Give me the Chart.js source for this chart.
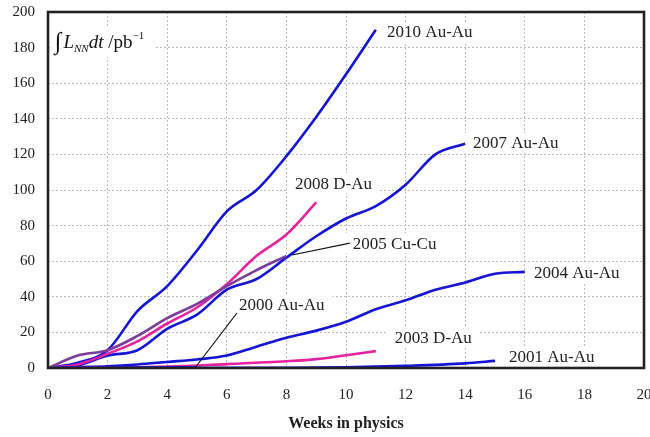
<!DOCTYPE html>
<html><head><meta charset="utf-8">
<script src="https://cdn.jsdelivr.net/npm/chart.js@4/dist/chart.umd.min.js"></script>
<style>html,body{margin:0;padding:0;background:#fff}#wrap{width:650px;height:437px;position:relative}</style>
</head><body><div id="wrap"><canvas id="c"></canvas></div>
<script>
// ---- data (weeks in physics vs integrated luminosity, pb^-1) ----
const weeks2010 = [0, 1, 2, 3, 4, 5, 6, 7, 8, 9, 10, 11];
const lum2010   = [0, 3, 10, 32, 46, 66, 88, 100, 119, 141, 165, 190];
const weeks2007 = [0, 1, 2, 3, 4, 5, 6, 7, 8, 9, 10, 11, 12, 13, 14];
const lum2007   = [0, 1.5, 7, 10, 22, 30, 44, 50, 62, 74, 84, 91, 103, 120, 126];
const weeks2008 = [0, 1, 2, 3, 4, 5, 6, 7, 8, 9];
const lum2008   = [0, 2, 8, 15, 25, 34, 47, 63, 75, 93];
const weeks2005 = [0, 1, 2, 3, 4, 5, 6, 7, 8];
const lum2005   = [0, 7, 10, 18, 28, 36, 46, 55, 63];
const weeks2004 = [0, 1, 2, 3, 4, 5, 6, 7, 8, 9, 10, 11, 12, 13, 14, 15, 16];
const lum2004   = [0, 0.5, 1, 2, 3.4, 4.8, 7, 12, 17, 21, 26, 33, 38, 44, 48, 53, 54];
const weeks2003 = [0, 4, 6, 8, 9, 10, 11];
const lum2003   = [0, 0.8, 2.2, 3.8, 5, 7.2, 9.5];
const weeks2001 = [0, 8, 10, 12, 14, 15];
const lum2001   = [0, 0.1, 0.4, 1.2, 2.6, 4];
const weeks2000 = [0, 5];
const lum2000   = [0, 0.4];
const xTickValues = [0, 2, 4, 6, 8, 10, 12, 14, 16, 18, 20];
const yTickValues = [0, 20, 40, 60, 80, 100, 120, 140, 160, 180, 200];
const runNames = ['2010 Au-Au', '2007 Au-Au', '2008 D-Au', '2005 Cu-Cu', '2004 Au-Au', '2000 Au-Au', '2003 D-Au', '2001 Au-Au'];

const BLUE = '#1414d4', PINK = '#e6229f', PURPLE = '#7c3c9c';
const pts = (xs, ys) => xs.map((x, i) => ({x, y: ys[i]}));
function ds(label, xs, ys, color) {
  return {label, data: pts(xs, ys), borderColor: color, backgroundColor: color,
    borderWidth: 2.6, pointRadius: 0, fill: false, cubicInterpolationMode: 'monotone'};
}
const datasets = [
  ds(runNames[3], weeks2005, lum2005, PURPLE),
  ds(runNames[5], weeks2000, lum2000, BLUE),
  ds(runNames[7], weeks2001, lum2001, BLUE),
  ds(runNames[6], weeks2003, lum2003, PINK),
  ds(runNames[4], weeks2004, lum2004, BLUE),
  ds(runNames[2], weeks2008, lum2008, PINK),
  ds(runNames[1], weeks2007, lum2007, BLUE),
  ds(runNames[0], weeks2010, lum2010, BLUE)
];

// label anchors in data coordinates (left edge, vertical centre)
const labelAnchors = [
  [runNames[0], 11.38, 188.8], [runNames[1], 14.26, 126.4], [runNames[2], 8.29, 103.9],
  [runNames[3], 10.23, 70.2], [runNames[4], 16.31, 53.4], [runNames[5], 6.41, 35.4],
  [runNames[6], 11.64, 16.9], [runNames[7], 15.47, 6.2]
];
const leaders = [[8.19, 63.5, 10.13, 70.2], [4.93, 0, 6.34, 30.9]];

const SERIF = '"Liberation Serif", "Times New Roman", serif';

const decor = {
  id: 'decor',
  beforeDatasetsDraw(chart) {
    const {ctx, scales: {x, y}} = chart;
    ctx.save();
    ctx.font = '17px ' + SERIF;
    ctx.textBaseline = 'middle';
    labelAnchors.forEach(([t, dx, dy]) => {
      const px = x.getPixelForValue(dx), py = y.getPixelForValue(dy);
      const w = ctx.measureText(t).width;
      ctx.fillStyle = '#fff';
      ctx.fillRect(px - 8, py - 10, w + 16, 20);
      ctx.fillStyle = '#222';
      ctx.fillText(t, px, py + 1);
    });
    // y-axis title
    const tx = x.getPixelForValue(0.23), ty = y.getPixelForValue(182.6);
    ctx.fillStyle = '#fff';
    ctx.fillRect(tx - 4, ty - 16, 104, 30);
    ctx.fillStyle = '#111';
    let cx = tx;
    ctx.font = '24px ' + SERIF; ctx.fillText('\u222B', cx, ty); cx += ctx.measureText('\u222B').width + 2;
    ctx.font = 'italic 19px ' + SERIF; ctx.fillText('L', cx, ty); cx += ctx.measureText('L').width;
    ctx.font = 'italic 11px ' + SERIF; ctx.fillText('NN', cx, ty + 6); cx += ctx.measureText('NN').width;
    ctx.font = 'italic 19px ' + SERIF; ctx.fillText('dt', cx, ty); cx += ctx.measureText('dt ').width;
    ctx.font = '19px ' + SERIF; ctx.fillText('/pb', cx, ty); cx += ctx.measureText('/pb').width;
    ctx.font = '11px ' + SERIF; ctx.fillText('\u22121', cx, ty - 7);
    ctx.restore();
  },
  afterDatasetsDraw(chart) {
    const {ctx, chartArea: a, scales: {x, y}} = chart;
    ctx.save();
    ctx.strokeStyle = '#111'; ctx.lineWidth = 1.2;
    leaders.forEach(([x1, y1, x2, y2]) => {
      ctx.beginPath();
      ctx.moveTo(x.getPixelForValue(x1), y.getPixelForValue(y1));
      ctx.lineTo(x.getPixelForValue(x2), y.getPixelForValue(y2));
      ctx.stroke();
    });
    ctx.strokeStyle = '#222'; ctx.lineWidth = 2.6;
    ctx.strokeRect(a.left, a.top, a.right - a.left, a.bottom - a.top);
    ctx.restore();
  }
};

new Chart(document.getElementById('c'), {
  type: 'line',
  data: {datasets},
  options: {
    responsive: true, maintainAspectRatio: false, animation: false,
    layout: {padding: {top: 12, right: 6, bottom: 0, left: 0}},
    plugins: {legend: {display: false}, tooltip: {enabled: false}},
    scales: {
      x: {
        type: 'linear', min: 0, max: 20,
        afterBuildTicks: s => { s.ticks = xTickValues.map(v => ({value: v})); },
        afterFit: s => { s.height = 69; s.paddingLeft = 0; s.paddingRight = 0; },
        ticks: {padding: 18, color: '#222', font: {family: SERIF, size: 15}, maxRotation: 0},
        grid: {color: '#bdbdbd', lineWidth: 1, drawTicks: false, tickBorderDash: [2, 2]},
        border: {display: false, dash: [2, 2]},
        title: {display: true, text: 'Weeks in physics', color: '#222',
          font: {family: SERIF, size: 16, weight: 'bold'}, padding: {top: 0, bottom: 4}}
      },
      y: {
        type: 'linear', min: 0, max: 200,
        afterBuildTicks: s => { s.ticks = yTickValues.map(v => ({value: v})); },
        afterFit: s => { s.width = 48; s.paddingTop = 0; s.paddingBottom = 0; },
        ticks: {padding: 13, color: '#222', font: {family: SERIF, size: 15}},
        grid: {color: '#bdbdbd', lineWidth: 1, drawTicks: false},
        border: {display: false, dash: [2, 2]}
      }
    }
  },
  plugins: [decor]
});
</script></body></html>
